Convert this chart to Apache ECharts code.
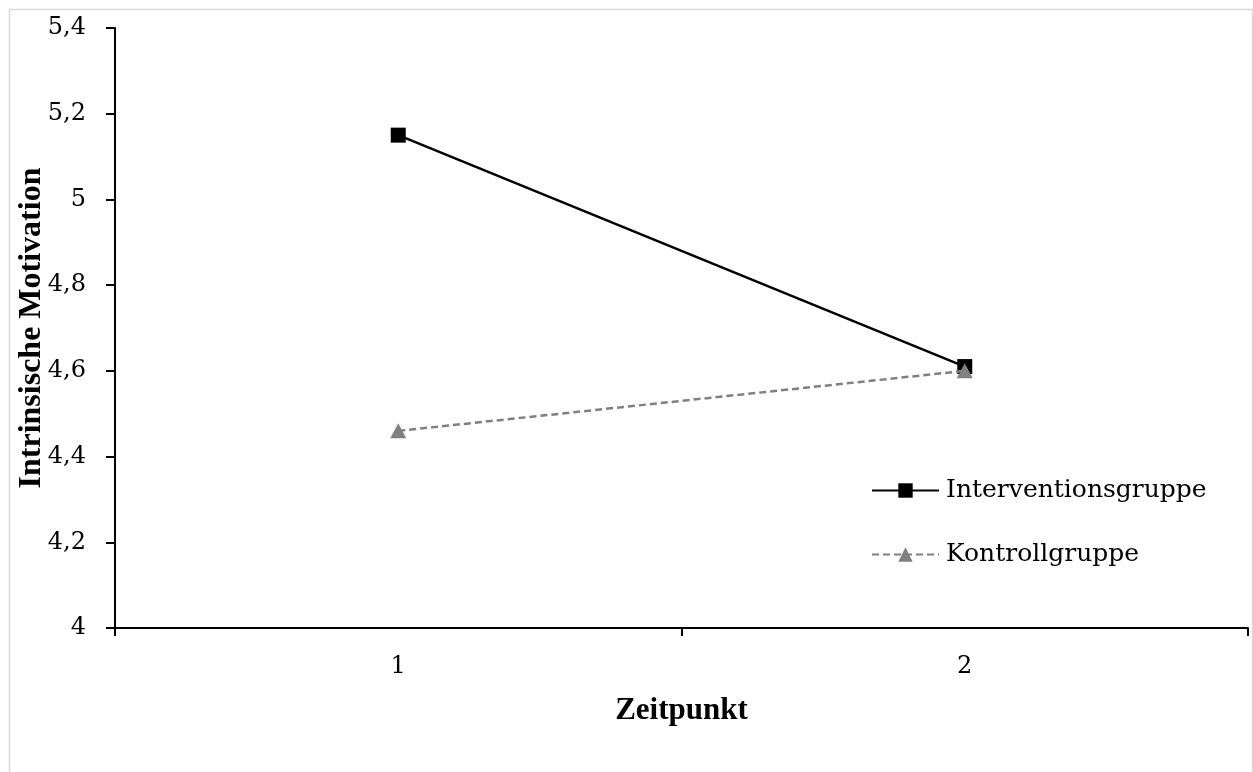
<!DOCTYPE html>
<html>
<head>
<meta charset="utf-8">
<script src="https://cdn.jsdelivr.net/npm/echarts@6/dist/echarts.min.js"></script>
<style>
html,body{margin:0;padding:0;background:#fff;}
#chart{width:1253px;height:772px;}
</style>
</head>
<body>
<div id="chart"></div>
<script>
const categories = ['1', '2'];
const interventionValues = [5.15, 4.61];
const kontrollValues = [4.46, 4.60];
const seriesNames = ['Interventionsgruppe', 'Kontrollgruppe'];
const yMin = 4, yMax = 5.4, yStep = 0.2;

const chart = echarts.init(document.getElementById('chart'), null, {renderer: 'canvas'});
const serif = '"Liberation Serif", "Times New Roman", serif';
const bodySerif = '"DejaVu Serif", serif';
const option = {
  backgroundColor: '#ffffff',
  animation: false,
  graphic: [{
    type: 'rect', left: 7, top: 7, z: 100,
    shape: {width: 1243, height: 800},
    style: {fill: 'none', stroke: '#d9d9d9', lineWidth: 1.5},
    silent: true
  }],
  grid: {left: 115, right: 5, top: 28, bottom: 144, containLabel: false, outerBoundsMode: 'none'},
  legend: {
    orient: 'vertical',
    left: 866, top: 473,
    itemWidth: 67, itemHeight: 18, itemGap: 39,
    textStyle: {fontFamily: bodySerif, fontSize: 25, color: '#000', padding: [0, 0, 0, 2]},
    data: seriesNames
  },
  xAxis: {
    type: 'category',
    data: categories,
    boundaryGap: true,
    name: 'Zeitpunkt',
    nameLocation: 'middle',
    nameGap: 67,
    nameMoveOverlap: false,
    nameTextStyle: {fontFamily: serif, fontSize: 31, fontWeight: 'bold', color: '#000'},
    axisLine: {lineStyle: {color: '#000', width: 2}},
    axisTick: {show: true, length: 8, lineStyle: {color: '#000', width: 2}},
    axisLabel: {fontFamily: bodySerif, fontSize: 24, color: '#000', margin: 27}
  },
  yAxis: {
    type: 'value',
    min: yMin, max: yMax, interval: yStep,
    name: 'Intrinsische Motivation',
    nameLocation: 'middle',
    nameGap: 67,
    nameMoveOverlap: false,
    nameRotate: 90,
    nameTextStyle: {fontFamily: serif, fontSize: 32, fontWeight: 'bold', color: '#000'},
    splitLine: {show: false},
    axisLine: {show: true, lineStyle: {color: '#000', width: 2}},
    axisTick: {show: true, length: 9, lineStyle: {color: '#000', width: 2}},
    axisLabel: {
      fontFamily: bodySerif, fontSize: 24, color: '#000', margin: 29,
      formatter: v => String(Math.round(v * 10) / 10).replace('.', ',')
    }
  },
  series: [
    {
      name: seriesNames[0], type: 'line', data: interventionValues,
      symbol: 'rect', symbolSize: 15,
      itemStyle: {color: '#000'},
      lineStyle: {color: '#000', width: 2.5},
      z: 3
    },
    {
      name: seriesNames[1], type: 'line', data: kontrollValues,
      symbol: 'triangle', symbolSize: [16, 15],
      itemStyle: {color: '#808080'},
      lineStyle: {color: '#808080', width: 2.5, type: [7, 4]},
      z: 4
    }
  ]
};
chart.setOption(option);
</script>
</body>
</html>
